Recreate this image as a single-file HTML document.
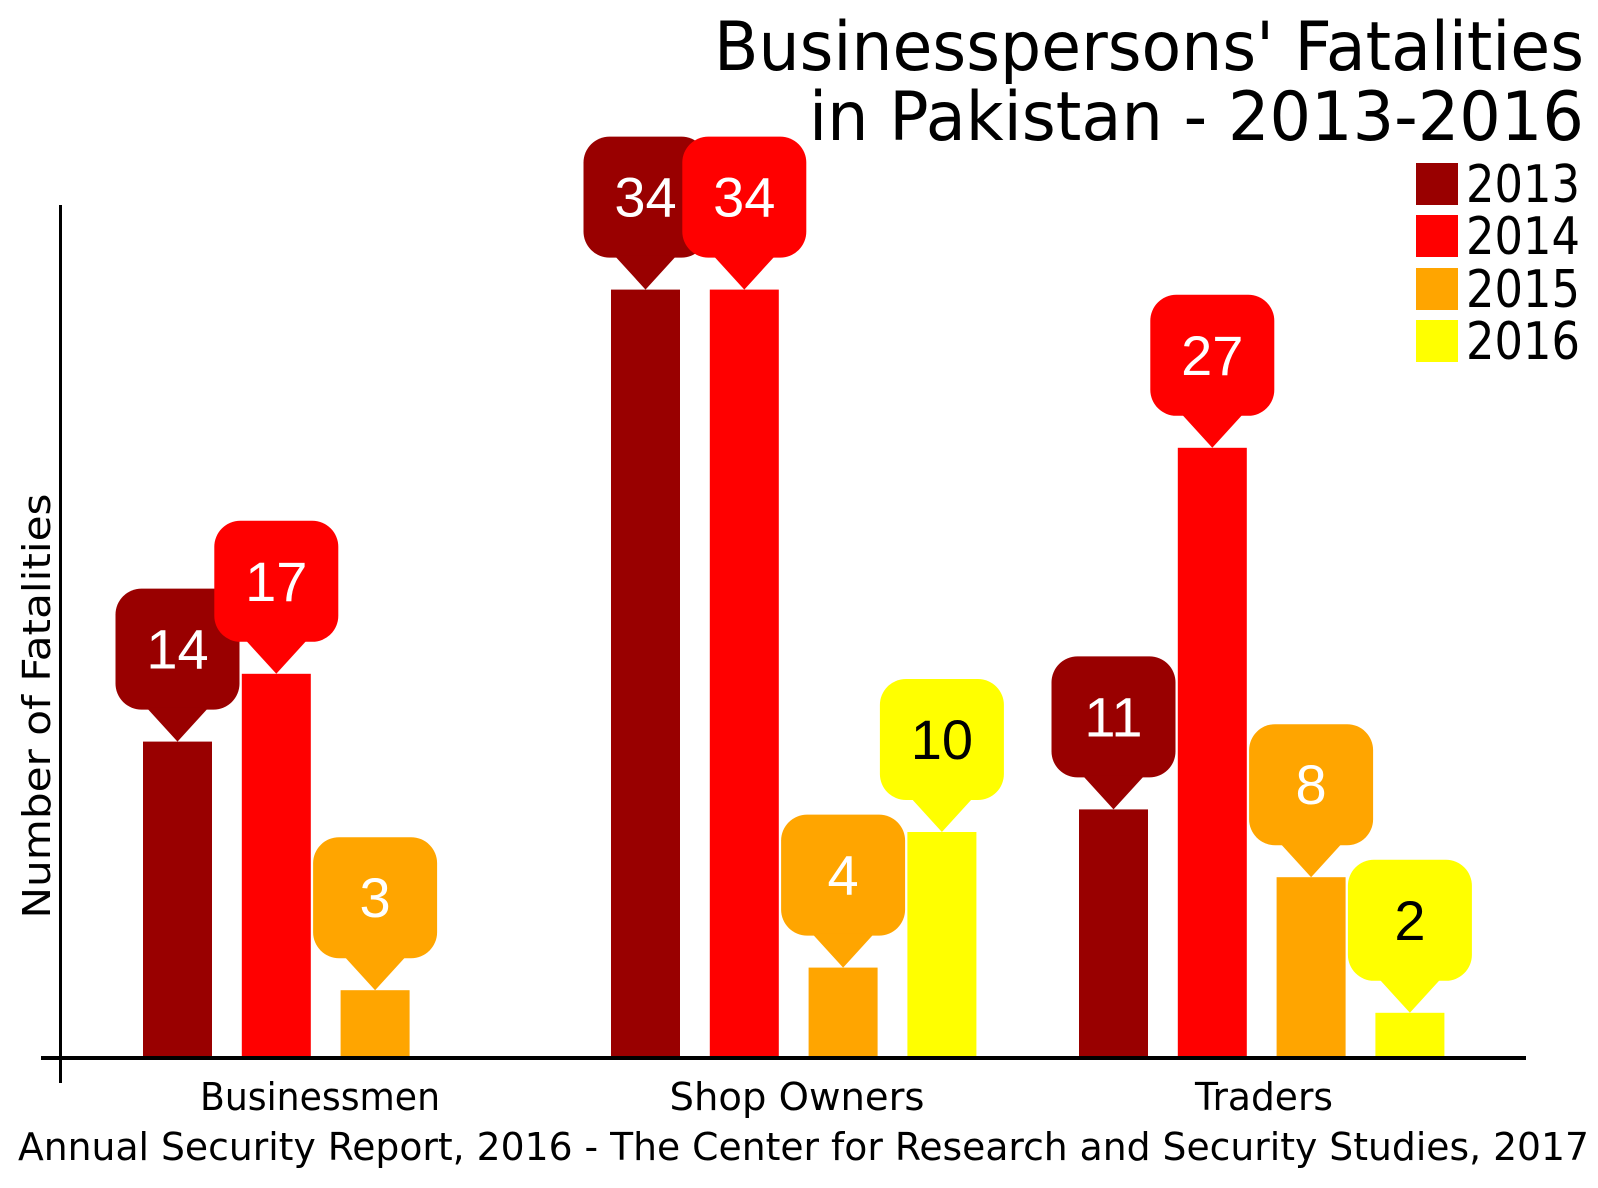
<!DOCTYPE html>
<html><head><meta charset="utf-8"><style>
html,body{margin:0;padding:0;background:#fff;}
svg{display:block;}
</style></head><body>
<svg id="s" width="1598" height="1188" viewBox="0 0 1598 1188" xmlns="http://www.w3.org/2000/svg">
<g font-family="'DejaVu Sans','Liberation Sans',sans-serif" fill="#000">
<text x="1584" y="70" font-size="68" text-anchor="end" textLength="870" lengthAdjust="spacingAndGlyphs">Businesspersons' Fatalities</text>
<text x="1584" y="140" font-size="68" text-anchor="end" textLength="775" lengthAdjust="spacingAndGlyphs">in Pakistan - 2013-2016</text>
<rect x="1416" y="163" width="42" height="42" fill="#990000"/>
<rect x="1416" y="215" width="42" height="42" fill="#ff0000"/>
<rect x="1416" y="268" width="42" height="42" fill="#ffa500"/>
<rect x="1416" y="320" width="42" height="42" fill="#ffff00"/>
<text x="1466" y="202" font-size="52" textLength="114" lengthAdjust="spacingAndGlyphs">2013</text>
<text x="1466" y="254" font-size="52" textLength="114" lengthAdjust="spacingAndGlyphs">2014</text>
<text x="1466" y="307" font-size="52" textLength="114" lengthAdjust="spacingAndGlyphs">2015</text>
<text x="1466" y="359" font-size="52" textLength="114" lengthAdjust="spacingAndGlyphs">2016</text>
<text x="320" y="1110" font-size="38" text-anchor="middle" textLength="240" lengthAdjust="spacingAndGlyphs">Businessmen</text>
<text x="797" y="1110" font-size="38" text-anchor="middle" textLength="255" lengthAdjust="spacingAndGlyphs">Shop Owners</text>
<text x="1264" y="1110" font-size="38" text-anchor="middle" textLength="138" lengthAdjust="spacingAndGlyphs">Traders</text>
<text x="18" y="1160" font-size="38" textLength="1571" lengthAdjust="spacingAndGlyphs">Annual Security Report, 2016 - The Center for Research and Security Studies, 2017</text>
<text transform="translate(50,706) rotate(-90)" font-size="38" text-anchor="middle" textLength="425" lengthAdjust="spacingAndGlyphs">Number of Fatalities</text>
</g>
<g id="bars"></g>
<rect x="41" y="1056" width="1485" height="4" fill="#000"/>
<rect x="59" y="205" width="3" height="878" fill="#000"/>
</svg>
<script>
var C=['#990000','#ff0000','#ffa500','#ffff00'];
var data=[[143,[14,17,3]],[611,[34,34,4,10]],[1079,[11,27,8,2]]];
var g=document.getElementById('bars'),h='';
var labels='';
data.forEach(function(d){d[1].forEach(function(v,i){
 var x=d[0]+i*98.8,w=69,top=1058-v*22.6,cx=x+w/2;
 h+='<rect x="'+x+'" y="'+top+'" width="'+w+'" height="'+(1058-top)+'" fill="'+C[i]+'"/>';
 var bt=top-153,bx=cx-62;
 labels+='<rect x="'+bx+'" y="'+bt+'" width="124" height="121" rx="26" fill="'+C[i]+'"/>';
 labels+='<polygon points="'+(cx-31)+','+(bt+119)+' '+(cx+31)+','+(bt+119)+' '+cx+','+top+'" fill="'+C[i]+'"/>';
 labels+='<text x="'+cx+'" y="'+(bt+80)+'" font-family="Liberation Sans,sans-serif" font-size="56" text-anchor="middle" fill="'+(i==3?'#000':'#fff')+'">'+v+'</text>';
});});
g.innerHTML=h+labels;
</script>
</body></html>
